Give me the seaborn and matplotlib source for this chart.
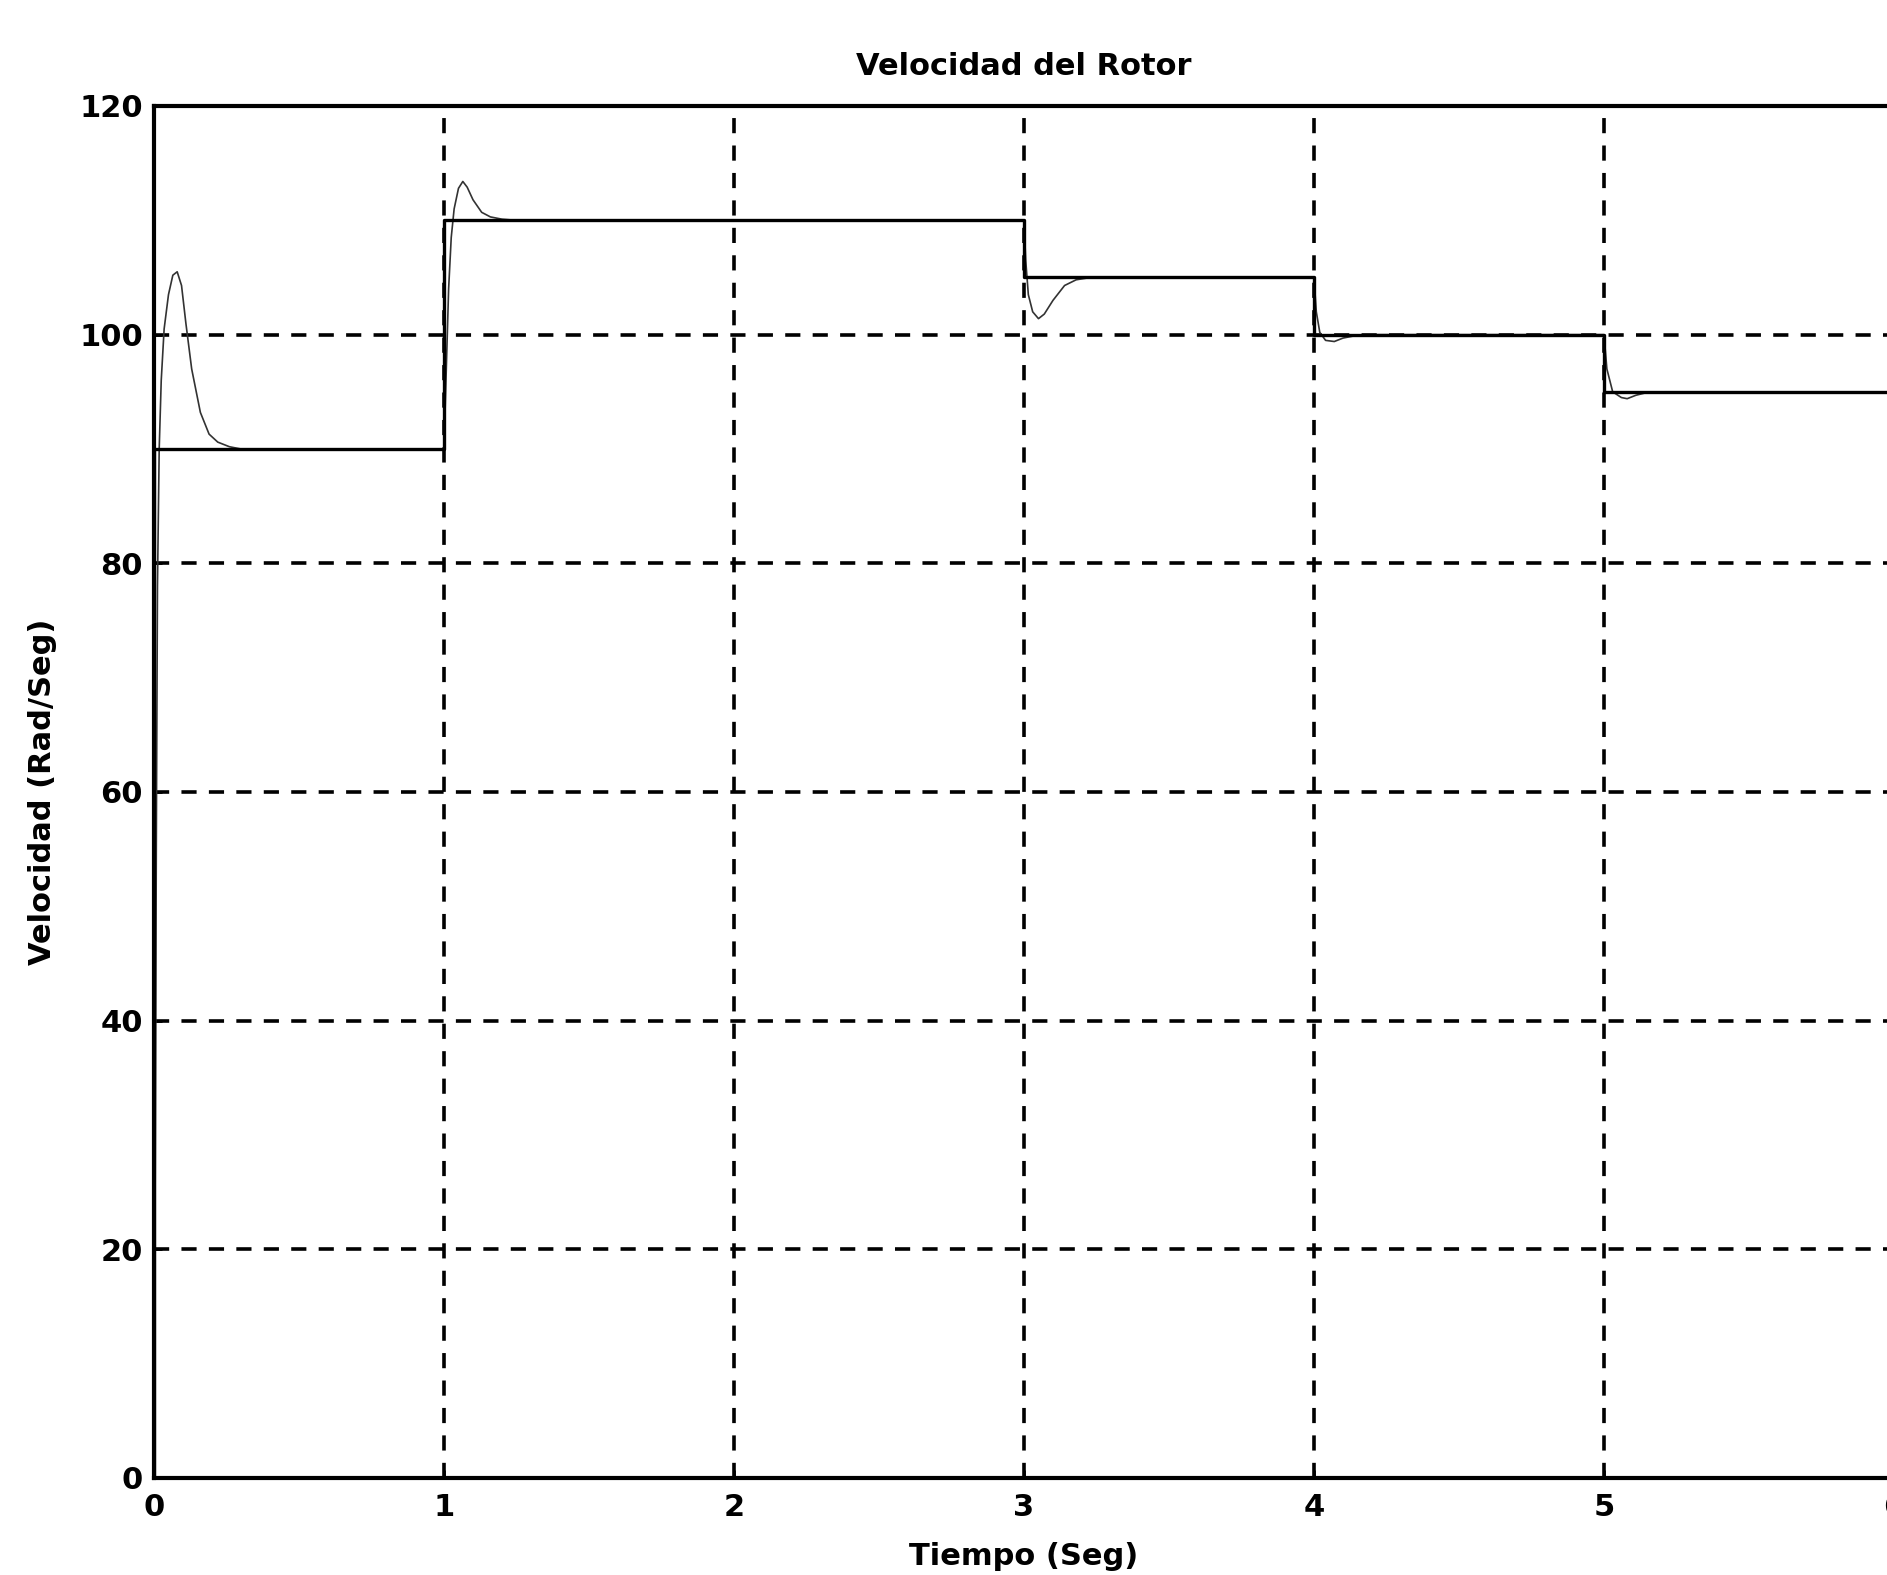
import matplotlib
matplotlib.use("Agg")
import matplotlib.pyplot as plt
import pandas as pd
import seaborn as sns

# Speed reference (step changes), rad/s
ref_t = [0.0, 0.0, 1.0, 1.0, 3.0, 3.0, 4.0, 4.0, 5.0, 5.0, 6.0]
ref_w = [0.0, 90.0, 90.0, 110.0, 110.0, 105.0, 105.0, 100.0, 100.0, 95.0, 95.0]

# Measured rotor speed, rad/s
resp_t = [0.0, 0.004, 0.008, 0.012, 0.018, 0.025, 0.035, 0.05, 0.065, 0.08, 0.095,
          0.11, 0.13, 0.16, 0.19, 0.22, 0.26, 0.30,
          1.0, 1.008, 1.016, 1.025, 1.035, 1.05, 1.065, 1.08, 1.10, 1.13, 1.16,
          1.20, 1.25,
          3.0, 3.006, 3.015, 3.03, 3.05, 3.07, 3.10, 3.14, 3.18, 3.23,
          4.0, 4.008, 4.02, 4.04, 4.07, 4.10, 4.14, 4.19,
          5.0, 5.01, 5.03, 5.06, 5.08, 5.11, 5.15, 5.21, 6.0]
resp_w = [0.0, 25.0, 55.0, 78.0, 90.0, 96.0, 100.5, 103.5, 105.2, 105.5, 104.3,
          101.0, 97.0, 93.2, 91.3, 90.6, 90.2, 90.0,
          90.0, 97.0, 104.0, 108.5, 111.0, 112.8, 113.4, 112.9, 111.8, 110.7, 110.3,
          110.1, 110.0,
          110.0, 106.5, 103.5, 102.0, 101.4, 101.8, 103.0, 104.3, 104.8, 105.0,
          105.0, 102.0, 100.2, 99.5, 99.4, 99.7, 99.9, 100.0,
          100.0, 97.0, 95.0, 94.5, 94.4, 94.7, 94.95, 95.0, 95.0]

x_ticks = [0, 1, 2, 3, 4, 5, 6]
y_ticks = [0, 20, 40, 60, 80, 100, 120]

sns.set_style("ticks")
plt.rcParams["font.family"] = ["DejaVu Sans"]
plt.rcParams["font.weight"] = "bold"
plt.rcParams["text.color"] = "black"
plt.rcParams["axes.labelcolor"] = "black"
plt.rcParams["xtick.color"] = "black"
plt.rcParams["ytick.color"] = "black"

ref_df = pd.DataFrame({"t": ref_t, "w": ref_w})
resp_df = pd.DataFrame({"t": resp_t, "w": resp_w})

fig = plt.figure(figsize=(18.87, 15.75), dpi=100)
ax = fig.add_axes([0.0816, 0.0616, 0.9221, 0.8711])

sns.lineplot(data=resp_df, x="t", y="w", ax=ax, estimator=None, sort=False,
             color="#333333", linewidth=1.2, zorder=3)
sns.lineplot(data=ref_df, x="t", y="w", ax=ax, estimator=None, sort=False,
             color="black", linewidth=2.4, zorder=4)

ax.set_xlim(0, 6)
ax.set_ylim(0, 120)
ax.set_xticks(x_ticks)
ax.set_yticks(y_ticks)
ax.set_xticklabels([str(v) for v in x_ticks])
ax.set_yticklabels([str(v) for v in y_ticks])

ax.grid(True, color="black", linestyle=(0, (4.2, 3.4)), linewidth=2.6)
ax.set_axisbelow(True)

for side in ["left", "bottom", "top", "right"]:
    ax.spines[side].set_visible(True)
    ax.spines[side].set_color("black")
    ax.spines[side].set_linewidth(3.0)

ax.tick_params(direction="in", length=6, width=2, labelsize=22, colors="black")
ax.tick_params(axis="y", pad=8)
ax.tick_params(axis="x", pad=11)
for lab in ax.get_xticklabels() + ax.get_yticklabels():
    lab.set_fontweight("bold")

ax.set_title("Velocidad del Rotor", fontsize=22, fontweight="bold", pad=22,
             color="black")
ax.set_xlabel("Tiempo (Seg)", fontsize=22, fontweight="bold", labelpad=14)
ax.set_ylabel("Velocidad (Rad/Seg)", fontsize=22, fontweight="bold", labelpad=16)

fig.savefig("out.png", dpi=100, facecolor="white")
